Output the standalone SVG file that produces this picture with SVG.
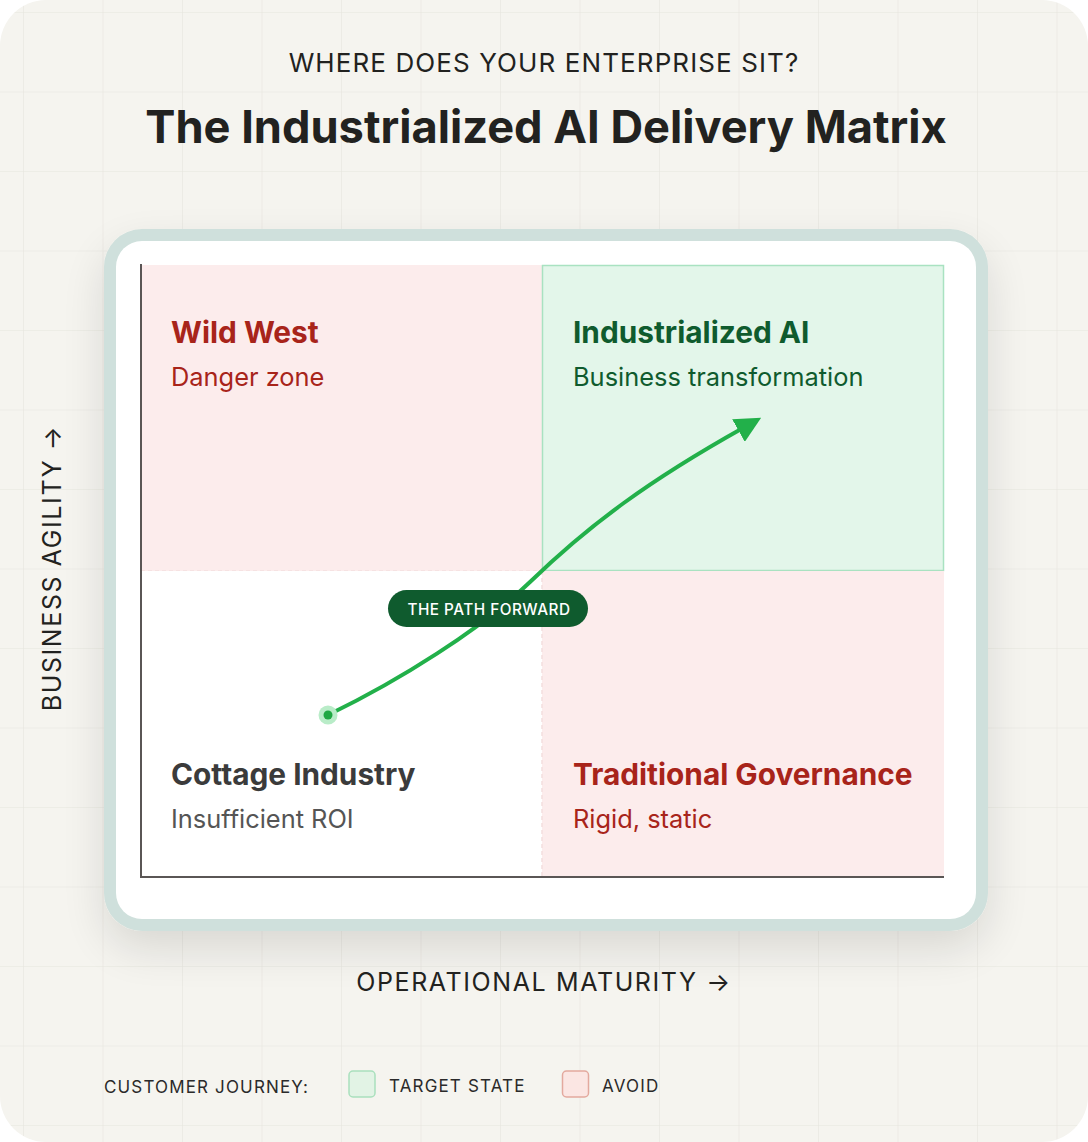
<svg xmlns="http://www.w3.org/2000/svg" width="1088" height="1142" viewBox="0 0 1088 1142">
<defs>
<pattern id="grid" x="23" y="12" width="79.5" height="79.5" patternUnits="userSpaceOnUse">
<path d="M0 0 H79.5 M0 0 V79.5" fill="none" stroke="#e6e5de" stroke-width="1.2"/>
</pattern>
<filter id="shadow" x="-20%" y="-20%" width="140%" height="150%">
<feGaussianBlur in="SourceAlpha" stdDeviation="22"/>
<feOffset dy="18"/>
<feComponentTransfer><feFuncA type="linear" slope="0.12"/></feComponentTransfer>
<feMerge><feMergeNode/><feMergeNode in="SourceGraphic"/></feMerge>
</filter>
<marker id="arrow" viewBox="0 0 10 10" refX="2" refY="5" markerWidth="6.5" markerHeight="6.5" orient="auto" markerUnits="strokeWidth">
<path d="M0 0 L10 5 L0 10 Z" fill="#22b04a"/>
</marker>
</defs>
<style>
text{font-family:Inter,"Liberation Sans",sans-serif}
.ttl{font-size:45.2px;font-weight:700;fill:#222220}
.sub{font-size:26px;fill:#222220;letter-spacing:1.1px}
.qh{font-size:29.8px;font-weight:700}
.qs{font-size:25.4px}
.red{fill:#a8241a}
.grn{fill:#0f5b2e}
.gry{fill:#3b3b3b}
.gry2{fill:#555555}
.axis{font-size:25px;fill:#222220;letter-spacing:1.6px}
.leg{font-size:17px;fill:#2a2a2a;letter-spacing:1.15px}
</style>
<rect x="0" y="0" width="1088" height="1142" fill="#ffffff"/>
<rect x="0" y="0" width="1088" height="1142" rx="46" fill="#f5f4ef"/>
<rect x="0" y="0" width="1088" height="1142" rx="46" fill="url(#grid)"/>

<g id="header">
<text x="544" y="72" text-anchor="middle" class="sub">WHERE DOES YOUR ENTERPRISE SIT?</text>
<text x="546" y="143" text-anchor="middle" class="ttl">The Industrialized AI Delivery Matrix</text>
</g>

<g id="frame" filter="url(#shadow)">
<rect x="104" y="229" width="884" height="702" rx="38" fill="#cfe0dc"/>
<rect x="116" y="241" width="860" height="678" rx="26" fill="#ffffff"/>
</g>

<g id="quadrant-wild-west">
<rect x="141" y="265" width="401" height="306" fill="#fcecec"/>
<line x1="141" y1="571" x2="542" y2="571" stroke="#f3dede" stroke-width="1.5" stroke-dasharray="4 3"/>
<text x="171" y="343" class="qh red">Wild West</text>
<text x="171" y="386" class="qs red">Danger zone</text>
</g>
<g id="quadrant-industrialized-ai">
<rect x="542.5" y="265.5" width="401" height="305" fill="#e3f6ea" stroke="#a9e2c1" stroke-width="1.5"/>
<text x="573" y="343" class="qh grn">Industrialized AI</text>
<text x="573" y="386" class="qs grn">Business transformation</text>
</g>
<g id="quadrant-cottage-industry">
<rect x="141" y="571" width="401" height="306" fill="#ffffff"/>
<text x="171" y="785" class="qh gry">Cottage Industry</text>
<text x="171" y="828" class="qs gry2">Insufficient ROI</text>
</g>
<g id="quadrant-traditional-governance">
<rect x="542" y="571" width="402" height="306" fill="#fcecec"/>
<line x1="542" y1="571" x2="542" y2="877" stroke="#f3dede" stroke-width="1.5" stroke-dasharray="4 3"/>
<text x="573" y="785" class="qh red">Traditional Governance</text>
<text x="573" y="828" class="qs red">Rigid, static</text>
</g>

<g id="axes">
<line x1="141" y1="264" x2="141" y2="878" stroke="#5a5655" stroke-width="2"/>
<line x1="140" y1="877" x2="944" y2="877" stroke="#5a5655" stroke-width="2"/>
</g>

<g id="connectors">
<path d="M328 715 C400 680 480 630 530 582 C590 524 650 480 743 428" fill="none" stroke="#22b04a" stroke-width="4" stroke-linecap="round" marker-end="url(#arrow)"/>
</g>

<g id="start-point">
<circle cx="328" cy="715" r="9.5" fill="#b9ecc8"/>
<circle cx="328" cy="715" r="4.5" fill="#1fa843"/>
</g>

<g id="path-label">
<rect x="388" y="590" width="200" height="37" rx="18.5" fill="#0f5b2e"/>
<text x="489" y="614.5" text-anchor="middle" font-size="15.3" fill="#ffffff" font-weight="500" letter-spacing="0.5">THE PATH FORWARD</text>
</g>

<g id="axis-labels">
<text x="0" y="0" transform="translate(61 568) rotate(-90)" text-anchor="middle" class="axis">BUSINESS AGILITY →</text>
<text x="544" y="991" text-anchor="middle" class="axis">OPERATIONAL MATURITY →</text>
</g>

<g id="legend">
<text x="104" y="1093" class="leg">CUSTOMER JOURNEY:</text>
<rect x="349" y="1071" width="26" height="26" rx="4" fill="#e2f3e5" stroke="#a9e0bd" stroke-width="1.5"/>
<text x="389" y="1092" class="leg" font-size="18" letter-spacing="1">TARGET STATE</text>
<rect x="562.5" y="1071" width="26" height="26" rx="4" fill="#fbe6e3" stroke="#e3a99e" stroke-width="1.5"/>
<text x="602" y="1092" class="leg" font-size="18" letter-spacing="1">AVOID</text>
</g>
</svg>
